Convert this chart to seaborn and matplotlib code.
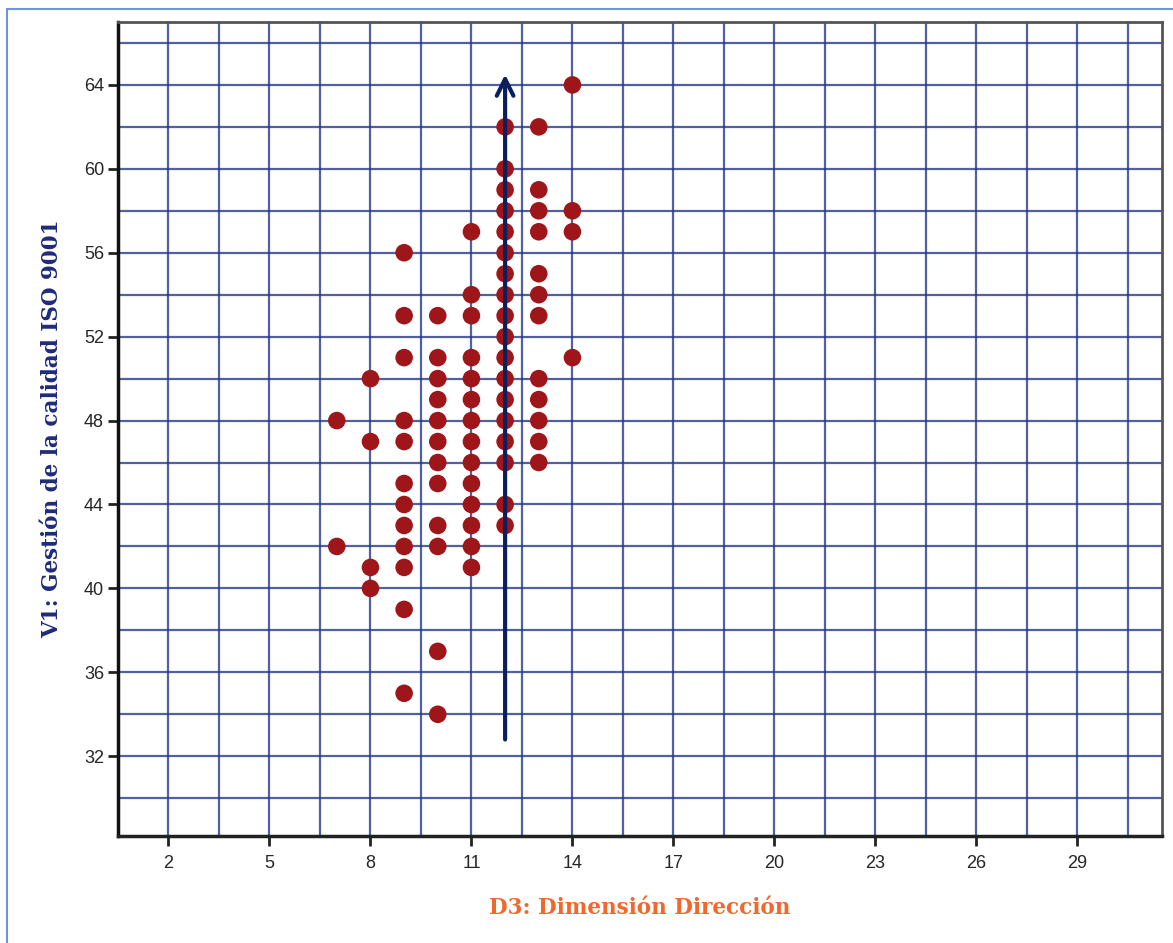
import matplotlib
matplotlib.use("Agg")
import matplotlib.pyplot as plt
import numpy as np
import pandas as pd
import seaborn as sns
from matplotlib.patches import Rectangle

#%% Data (one column of points per D3 value)
d3_7 = [48, 42]
d3_8 = [50, 47, 41, 40]
d3_9 = [56, 53, 51, 48, 47, 45, 44, 43, 42, 41, 39, 35]
d3_10 = [53, 51, 50, 49, 48, 47, 46, 45, 43, 42, 37, 34]
d3_11 = [57, 54, 53, 51, 50, 49, 48, 47, 46, 45, 44, 43, 42, 41]
d3_12 = [62, 60, 59, 58, 57, 56, 55, 54, 53, 52, 51, 50, 49, 48, 47, 46, 44, 43]
d3_13 = [62, 59, 58, 57, 55, 54, 53, 50, 49, 48, 47, 46]
d3_14 = [64, 58, 57, 51]

x_ticks = [2, 5, 8, 11, 14, 17, 20, 23, 26, 29]
y_ticks = [32, 36, 40, 44, 48, 52, 56, 60, 64]

# arrow drawn along D3 = 12
arrow_x = 12
arrow_y = [32.8, 64.5]

columns = {7: d3_7, 8: d3_8, 9: d3_9, 10: d3_10, 11: d3_11,
           12: d3_12, 13: d3_13, 14: d3_14}
data = pd.DataFrame([(k, v) for k, vals in columns.items() for v in vals],
                    columns=["D3", "V1"])

#%% Figure
sns.set_style("white")
fig = plt.figure(figsize=(11.73, 9.43), dpi=100)
ax = fig.add_axes([0.1006, 0.1135, 0.8896, 0.8632])

grid_color = "#24388a"
for gx in np.arange(2, 31, 1.5):
    ax.axvline(gx, color=grid_color, linewidth=1.6, alpha=0.8, zorder=1)
for gy in np.arange(30, 67, 2):
    ax.axhline(gy, color=grid_color, linewidth=1.6, alpha=0.8, zorder=1)

sns.scatterplot(data=data, x="D3", y="V1", ax=ax,
                color="#9e1619", s=160, edgecolor="none", zorder=3)

ax.annotate("", xy=(arrow_x, arrow_y[1]), xytext=(arrow_x, arrow_y[0]),
            arrowprops=dict(arrowstyle="->", color="#0b1f5e", lw=3,
                            mutation_scale=30, shrinkA=0, shrinkB=0),
            zorder=4)

ax.set_xlim(0.5, 31.5)
ax.set_ylim(28.2, 67)
ax.set_xticks(x_ticks)
ax.set_yticks(y_ticks)
ax.tick_params(axis="both", bottom=True, left=True, length=7, width=2,
               color="#222222", labelsize=13, direction="out", pad=3)
ax.tick_params(axis="x", pad=7)
for lbl in ax.get_xticklabels() + ax.get_yticklabels():
    lbl.set_family("Liberation Sans")

ax.spines["left"].set_linewidth(2.5)
ax.spines["bottom"].set_linewidth(2.5)
ax.spines["left"].set_color("#111111")
ax.spines["bottom"].set_color("#222222")
ax.spines["top"].set_linewidth(2)
ax.spines["right"].set_linewidth(2)
ax.spines["top"].set_color("#555555")
ax.spines["right"].set_color("#555555")

ax.set_xlabel("D3: Dimensión Dirección", family="DejaVu Serif",
              fontweight="bold", fontsize=15.5, color="#f0682c", labelpad=18)
ax.set_ylabel("V1: Gestión de la calidad ISO 9001", family="DejaVu Serif",
              fontweight="bold", fontsize=15.5, color="#1d2b7a", labelpad=15)

# thin light-blue frame round the picture
fig.patches.append(Rectangle((7 / 1173, -0.05), 1.1, 1 - 9 / 943 + 0.05,
                             transform=fig.transFigure, fill=False,
                             edgecolor="#6f95d8", linewidth=1.5))

fig.savefig("out.png", dpi=100)
